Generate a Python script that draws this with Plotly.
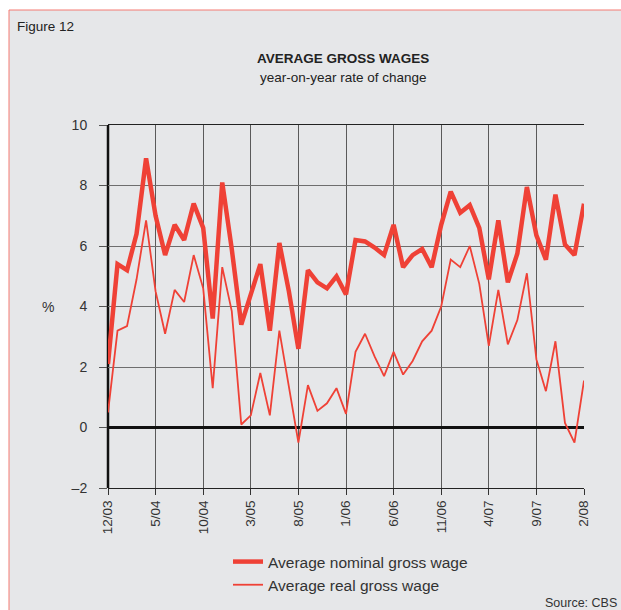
import plotly.graph_objects as go

tick_labels = ["12/03", "5/04", "10/04", "3/05", "8/05", "1/06", "6/06", "11/06", "4/07", "9/07", "2/08"]
months = list(range(51))

nominal = [2.1, 5.4, 5.2, 6.4, 8.9, 7.0, 5.7, 6.7, 6.2, 7.4, 6.6, 3.6, 8.1, 5.9, 3.4,
           4.4, 5.4, 3.2, 6.1, 4.5, 2.6, 5.2, 4.8, 4.6, 5.0, 4.4, 6.2, 6.15, 5.95, 5.7,
           6.7, 5.3, 5.7, 5.9, 5.3, 6.7, 7.8, 7.1, 7.35, 6.6, 4.9, 6.85, 4.8, 5.75, 7.95,
           6.35, 5.55, 7.7, 6.05, 5.7, 7.4]
real = [0.5, 3.2, 3.35, 4.9, 6.85, 4.5, 3.1, 4.55, 4.15, 5.7, 4.6, 1.3, 5.3, 3.85, 0.1,
        0.4, 1.8, 0.4, 3.2, 1.4, -0.5, 1.4, 0.55, 0.8, 1.3, 0.45, 2.5, 3.1, 2.35, 1.7,
        2.5, 1.75, 2.2, 2.85, 3.2, 4.0, 5.55, 5.3, 6.0, 4.75, 2.7, 4.55, 2.75, 3.55, 5.1,
        2.25, 1.2, 2.85, 0.15, -0.5, 1.55]
y_ticks = [-2, 0, 2, 4, 6, 8, 10]
y_tick_text = ["\u20132", "0", "2", "4", "6", "8", "10"]

RED = "#ef4136"
FONT = "Liberation Sans, Arial, sans-serif"

fig = go.Figure()
fig.add_trace(go.Scatter(x=months, y=nominal, mode="lines", name="Average nominal gross wage",
                         line=dict(color=RED, width=4.5)))
fig.add_trace(go.Scatter(x=months, y=real, mode="lines", name="Average real gross wage",
                         line=dict(color=RED, width=1.8)))

W, H = 621, 610
L, T = 108, 125
R = W - 584
B = H - 488
pw, ph = W - L - R, H - T - B

def px_x(x):
    return (x - L) / pw

def px_y(y):
    return (H - B - y) / ph

fig.add_shape(type="rect", xref="paper", yref="paper",
              x0=px_x(9), x1=px_x(660), y0=px_y(660), y1=px_y(10),
              fillcolor="#e6e7e9", line=dict(color="#f47a72", width=1), layer="below")

fig.update_layout(
    width=W, height=H,
    margin=dict(l=L, r=R, t=T, b=B, pad=0, autoexpand=False),
    paper_bgcolor="white",
    plot_bgcolor="rgba(0,0,0,0)",
    font=dict(family=FONT, color="#333333", size=14),
    showlegend=True,
    legend=dict(x=px_x(228), y=px_y(545), xanchor="left", yanchor="top",
                bgcolor="rgba(0,0,0,0)", font=dict(size=15.5, color="#333333"),
                tracegroupgap=0),
    annotations=[
        dict(text="Figure 12", xref="paper", yref="paper", x=px_x(15), y=px_y(26),
             xanchor="left", yanchor="middle", showarrow=False, font=dict(size=13.5, color="#222")),
        dict(text="<b>AVERAGE GROSS WAGES</b>", xref="paper", yref="paper", x=px_x(343), y=px_y(59),
             xanchor="center", yanchor="middle", showarrow=False, font=dict(size=13.5, color="#222")),
        dict(text="year-on-year rate of change", xref="paper", yref="paper", x=px_x(343), y=px_y(78),
             xanchor="center", yanchor="middle", showarrow=False, font=dict(size=13.5, color="#222")),
        dict(text="%", xref="paper", yref="paper", x=px_x(48), y=px_y(307),
             xanchor="center", yanchor="middle", showarrow=False, font=dict(size=14, color="#333")),
        dict(text="Source: CBS", xref="paper", yref="paper", x=px_x(619), y=px_y(603),
             xanchor="right", yanchor="middle", showarrow=False, font=dict(size=12.5, color="#333")),
    ],
)

fig.update_xaxes(
    range=[0, 50], tickmode="array", tickvals=months[::5], ticktext=tick_labels,
    tickangle=-90, tickfont=dict(size=13.5, color="#333"),
    showgrid=True, gridcolor="#5a5a5a", gridwidth=1,
    showline=True, linecolor="#222", linewidth=1.2, mirror=True,
    ticks="outside", ticklen=6, tickcolor="#333", tickwidth=1,
    zeroline=False, fixedrange=True, automargin=False,
)
fig.update_yaxes(
    range=[-2, 10], tickmode="array", tickvals=y_ticks, ticktext=y_tick_text,
    tickfont=dict(size=14, color="#333"),
    showgrid=True, gridcolor="#6e6e6e", gridwidth=1.3,
    zeroline=True, zerolinecolor="#111", zerolinewidth=2.5,
    showline=False,
    ticks="outside", ticklen=8, tickcolor="#555", tickwidth=1,
    ticklabelstandoff=9, fixedrange=True, automargin=False,
)
fig.add_shape(type="line", xref="paper", yref="paper", x0=0, x1=0, y0=0, y1=1,
              line=dict(color="#111", width=2.5), layer="below")

fig.write_html("out.html", config={"displayModeBar": False},
               post_script="document.body.style.margin='0';document.body.style.overflow='hidden';")
